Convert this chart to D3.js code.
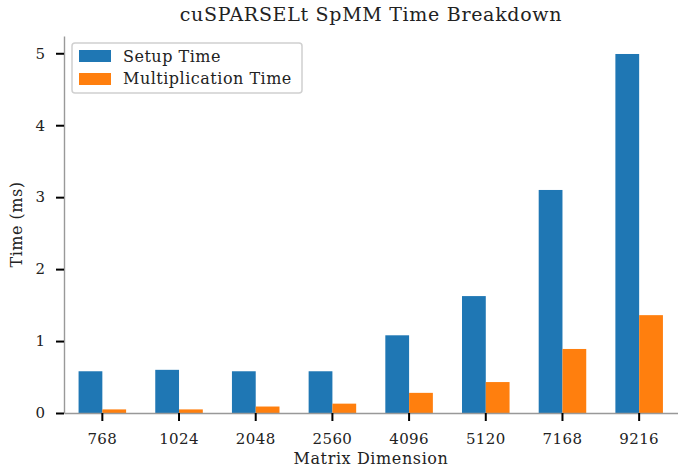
<!DOCTYPE html>
<html>
<head>
<meta charset="utf-8">
<script src="https://cdn.jsdelivr.net/npm/d3@7"></script>
<style>
  body { margin: 0; background: #fff; }
  svg text { font-family: "DejaVu Serif", serif; fill: #222; }
</style>
</head>
<body>
<div id="chart"></div>
<script>
// data
var dims = ["768", "1024", "2048", "2560", "4096", "5120", "7168", "9216"];
var setupTime = [0.58, 0.60, 0.58, 0.58, 1.08, 1.625, 3.10, 4.99];
var multTime = [0.05, 0.05, 0.09, 0.13, 0.28, 0.43, 0.89, 1.36];
var yTicks = [0, 1, 2, 3, 4, 5];

var W = 678, H = 469;
var margin = {top: 36, right: 0.5, bottom: 56, left: 64};

var svg = d3.select("#chart").append("svg")
    .attr("width", W)
    .attr("height", H);

var x = d3.scaleBand()
    .domain(dims)
    .range([margin.left, W - margin.right])
    .padding(0);

var y = d3.scaleLinear()
    .domain([0, 5.24])
    .range([H - margin.bottom, margin.top]);

var barW = x.bandwidth() * 0.31;

// bars
svg.append("g").selectAll("rect")
    .data(setupTime)
    .enter().append("rect")
    .attr("x", function(d, i) { return x(dims[i]) + x.bandwidth() / 2 - barW; })
    .attr("y", function(d) { return y(d); })
    .attr("width", barW)
    .attr("height", function(d) { return y(0) - y(d); })
    .attr("fill", "#1f77b4");

svg.append("g").selectAll("rect")
    .data(multTime)
    .enter().append("rect")
    .attr("x", function(d, i) { return x(dims[i]) + x.bandwidth() / 2; })
    .attr("y", function(d) { return y(d); })
    .attr("width", barW)
    .attr("height", function(d) { return y(0) - y(d); })
    .attr("fill", "#ff7f0e");

// x axis
var xAxis = svg.append("g")
    .attr("transform", "translate(0," + y(0) + ")")
    .call(d3.axisBottom(x).tickSizeOuter(0).tickSizeInner(8).tickPadding(12));
xAxis.select(".domain").attr("stroke", "#999").attr("stroke-width", 1.4);
xAxis.selectAll(".tick line").attr("stroke", "#000").attr("stroke-width", 2);
xAxis.selectAll(".tick text").style("font-size", "15px").style("letter-spacing", "0.4px").attr("fill", "#222");

// y axis
var yAxis = svg.append("g")
    .attr("transform", "translate(" + margin.left + ",0)")
    .call(d3.axisLeft(y).tickValues(yTicks).tickFormat(d3.format("d"))
      .tickSizeOuter(0).tickSizeInner(8).tickPadding(11));
yAxis.select(".domain").attr("stroke", "#999").attr("stroke-width", 1.4);
yAxis.selectAll(".tick line").attr("stroke", "#000").attr("stroke-width", 2);
yAxis.selectAll(".tick text").style("font-size", "15px").attr("fill", "#222");

// title
svg.append("text")
    .attr("x", (margin.left + W) / 2)
    .attr("y", 21)
    .attr("text-anchor", "middle")
    .style("font-size", "19px")
    .style("letter-spacing", "0.7px")
    .text("cuSPARSELt SpMM Time Breakdown");

// axis labels
svg.append("text")
    .attr("x", (margin.left + W) / 2)
    .attr("y", 464)
    .attr("text-anchor", "middle")
    .style("font-size", "16px")
    .style("letter-spacing", "0.6px")
    .text("Matrix Dimension");

svg.append("text")
    .attr("transform", "translate(22," + (margin.top + H - margin.bottom) / 2 + ") rotate(-90)")
    .attr("text-anchor", "middle")
    .style("font-size", "16px")
    .style("letter-spacing", "0.5px")
    .text("Time (ms)");

// legend
var legend = svg.append("g");
legend.append("rect")
    .attr("x", 72).attr("y", 43)
    .attr("width", 230).attr("height", 50)
    .attr("rx", 3)
    .attr("fill", "#fff")
    .attr("stroke", "#d0d0d0")
    .attr("stroke-width", 1.5);
var legendItems = [
  {label: "Setup Time", color: "#1f77b4"},
  {label: "Multiplication Time", color: "#ff7f0e"}
];
legendItems.forEach(function(d, i) {
  legend.append("rect")
      .attr("x", 79).attr("y", 50 + i * 23)
      .attr("width", 32).attr("height", 12)
      .attr("fill", d.color);
  legend.append("text")
      .attr("x", 123).attr("y", 62 + i * 22)
      .style("font-size", "16px")
      .style("letter-spacing", "0.5px")
      .text(d.label);
});
</script>
</body>
</html>
